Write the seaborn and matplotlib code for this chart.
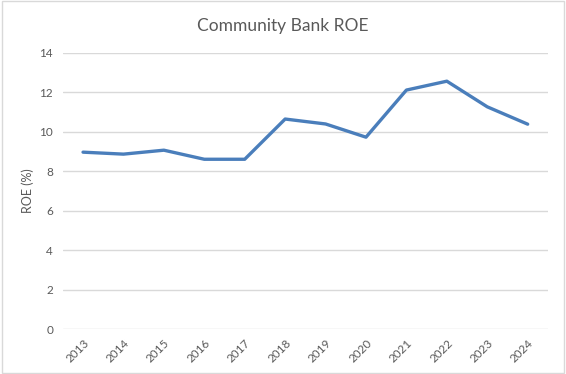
import pandas as pd
import matplotlib
matplotlib.use("Agg")
import matplotlib.pyplot as plt
import seaborn as sns

years = ["2013", "2014", "2015", "2016", "2017", "2018",
         "2019", "2020", "2021", "2022", "2023", "2024"]
roe = [8.97, 8.87, 9.07, 8.61, 8.61, 10.65, 10.40, 9.73, 12.12, 12.57, 11.27, 10.39]
yticks = [0, 2, 4, 6, 8, 10, 12, 14]

data = pd.DataFrame({"Year": years, "ROE": roe})

sns.set_style("white")
plt.rcParams["font.family"] = ["Lato", "DejaVu Sans"]

fig = plt.figure(figsize=(5.66, 3.74), dpi=100)
ax = fig.add_axes([0.111, 0.1203, 0.857, 0.738])

sns.lineplot(data=data, x="Year", y="ROE", color="#4A7EBB", linewidth=2.4,
             sort=False, ax=ax)

ax.set_xlim(-0.5, len(years) - 0.5)
ax.set_ylim(0, 14)
ax.set_yticks(yticks)
ax.set_yticklabels([str(t) for t in yticks])
ax.grid(axis="y", color="#D9D9D9", linewidth=1)
ax.grid(axis="x", visible=False)
for s in ax.spines.values():
    s.set_visible(False)
ax.tick_params(axis="both", length=0, colors="#595959", labelsize=8.5)
ax.tick_params(axis="y", pad=7)
ax.tick_params(axis="x", pad=6)
plt.setp(ax.get_xticklabels(), rotation=45, ha="right", rotation_mode="anchor")
ax.set_xlabel("")
ax.set_ylabel("ROE (%)", color="#595959", fontsize=9, labelpad=4)

fig.text(0.5, 0.93, "Community Bank ROE", ha="center", va="center",
         fontsize=12.5, color="#595959")

fig.patches.append(plt.Rectangle((0.003, 0.004), 0.994, 0.992, transform=fig.transFigure,
                                 fill=False, edgecolor="#D9D9D9", linewidth=1))

fig.savefig("out.png", dpi=100)
